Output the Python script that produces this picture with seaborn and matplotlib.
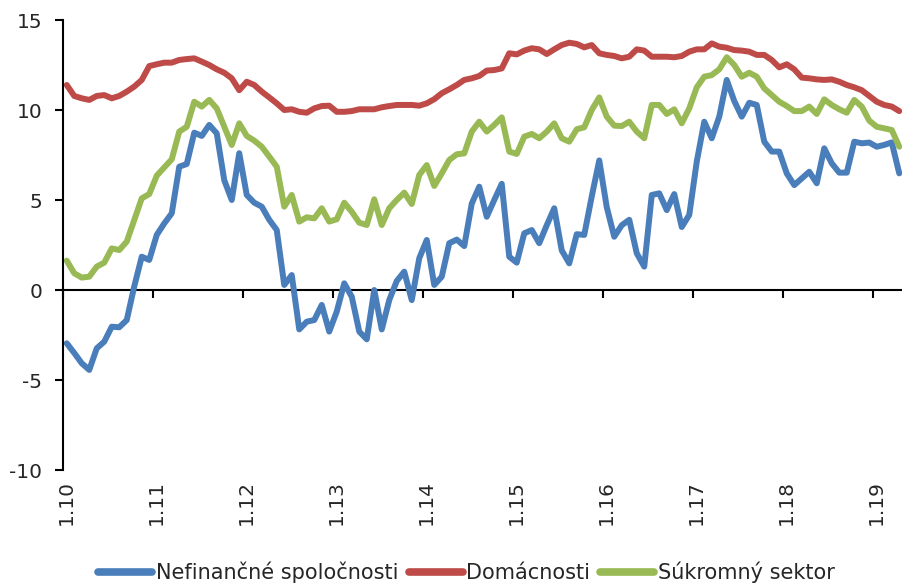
import numpy as np
import pandas as pd
import seaborn as sns
import matplotlib.pyplot as plt

# monthly data, 1.2010 - 4.2019
nefin = [-2.96, -3.5, -4.07, -4.44, -3.24, -2.87, -2.04, -2.07, -1.67, 0.2, 1.85, 1.67,
         3.06, 3.7, 4.26, 6.85, 7.0, 8.74, 8.56, 9.17, 8.7, 6.1, 5.0, 7.6,
         5.28, 4.85, 4.63, 3.9, 3.33, 0.28, 0.83, -2.19, -1.76, -1.67, -0.83, -2.31,
         -1.2, 0.37, -0.37, -2.31, -2.74, 0.0, -2.19, -0.56, 0.5, 1.02, -0.56, 1.76,
         2.78, 0.28, 0.74, 2.6, 2.8, 2.44, 4.8, 5.74, 4.07, 5.0, 5.9, 1.85,
         1.52, 3.15, 3.33, 2.6, 3.6, 4.54, 2.2, 1.48, 3.1, 3.06, 5.2, 7.2,
         4.6, 2.96, 3.6, 3.9, 2.04, 1.3, 5.28, 5.37, 4.44, 5.33, 3.5, 4.17,
         7.13, 9.35, 8.43, 9.63, 11.67, 10.5, 9.63, 10.4, 10.28, 8.24, 7.69, 7.69,
         6.48, 5.83, 6.2, 6.57, 5.93, 7.87, 7.04, 6.52, 6.52, 8.24, 8.15, 8.19,
         7.96, 8.06, 8.2, 6.48]
domac = [11.39, 10.78, 10.65, 10.56, 10.78, 10.83, 10.65, 10.78, 11.02, 11.3, 11.67, 12.44,
         12.54, 12.63, 12.63, 12.78, 12.83, 12.87, 12.69, 12.5, 12.26, 12.07, 11.76, 11.1,
         11.57, 11.39, 11.02, 10.7, 10.37, 10.0, 10.04, 9.9, 9.85, 10.09, 10.22, 10.24,
         9.9, 9.9, 9.94, 10.04, 10.04, 10.04, 10.15, 10.22, 10.28, 10.28, 10.28, 10.24,
         10.37, 10.6, 10.93, 11.15, 11.39, 11.67, 11.76, 11.89, 12.19, 12.22, 12.31, 13.15,
         13.09, 13.3, 13.43, 13.37, 13.11, 13.37, 13.61, 13.74, 13.67, 13.48, 13.61, 13.15,
         13.06, 13.0, 12.87, 12.96, 13.37, 13.3, 12.96, 12.96, 12.96, 12.93, 13.0, 13.24,
         13.37, 13.37, 13.7, 13.52, 13.46, 13.33, 13.3, 13.24, 13.06, 13.06, 12.78, 12.37,
         12.54, 12.26, 11.8, 11.76, 11.7, 11.67, 11.7, 11.57, 11.39, 11.26, 11.1, 10.78,
         10.46, 10.28, 10.19, 9.94]
sukrom = [1.63, 0.93, 0.69, 0.74, 1.3, 1.52, 2.31, 2.22, 2.69, 3.89, 5.09, 5.33,
          6.35, 6.81, 7.26, 8.8, 9.07, 10.46, 10.19, 10.56, 10.09, 9.07, 8.06, 9.26,
          8.56, 8.3, 7.96, 7.41, 6.85, 4.63, 5.28, 3.8, 4.04, 3.98, 4.54, 3.8,
          3.93, 4.85, 4.35, 3.74, 3.61, 5.04, 3.61, 4.54, 5.0, 5.41, 4.78, 6.39,
          6.94, 5.78, 6.48, 7.22, 7.54, 7.59, 8.8, 9.35, 8.8, 9.17, 9.59, 7.69,
          7.56, 8.52, 8.67, 8.43, 8.8, 9.26, 8.43, 8.24, 8.93, 9.04, 10.0, 10.7,
          9.63, 9.13, 9.11, 9.35, 8.8, 8.43, 10.28, 10.28, 9.78, 10.04, 9.26, 10.09,
          11.26, 11.85, 11.94, 12.26, 12.93, 12.5, 11.85, 12.07, 11.85, 11.2, 10.83, 10.46,
          10.22, 9.94, 9.94, 10.19, 9.78, 10.59, 10.28, 10.04, 9.85, 10.56, 10.19, 9.41,
          9.07, 8.98, 8.89, 7.96]
series_names = ["Nefinančné spoločnosti", "Domácnosti", "Súkromný sektor"]
colors = ["#4A7EBB", "#BE4B48", "#98B954"]
tick_labels = ["1.10", "1.11", "1.12", "1.13", "1.14", "1.15", "1.16", "1.17", "1.18", "1.19"]

n = len(nefin)
df = pd.DataFrame({"m": np.tile(np.arange(n), 3),
                   "value": nefin + domac + sukrom,
                   "series": np.repeat(series_names, n)})

sns.set_style("white")
plt.rcParams["font.family"] = ["DejaVu Sans"]
plt.rcParams["axes.unicode_minus"] = False

fig = plt.figure(figsize=(9.02, 5.87), dpi=100)
ax = fig.add_axes([63 / 902, 117 / 587, 840 / 902, 450 / 587])
sns.lineplot(data=df, x="m", y="value", hue="series", palette=colors,
             linewidth=4.3, ax=ax, legend=False, solid_capstyle="round")

ax.set_xlim(-0.5, n - 0.5)
ax.set_ylim(-10, 15)
ax.set_yticks([-10, -5, 0, 5, 10, 15])
ax.set_xticks(np.arange(0, n, 12))
ax.set_xticklabels(tick_labels[:len(range(0, n, 12))], rotation=90)
ax.set_xlabel("")
ax.set_ylabel("")
for s in ["top", "right", "bottom"]:
    ax.spines[s].set_visible(False)
ax.spines["left"].set_color("black")
ax.spines["left"].set_linewidth(1.5)
ax.tick_params(axis="y", direction="out", length=6, width=1.5, color="black",
               labelsize=14.5, pad=9, left=True)
ax.tick_params(axis="x", length=0, labelsize=14.5, pad=7)

# axis line at zero with year ticks
sec = ax.secondary_xaxis(10 / 25)
sec.set_xticks(np.arange(-0.5, n, 12))
sec.tick_params(axis="x", direction="out", length=6, width=1.5, color="black",
                labelbottom=False, labeltop=False, bottom=True, top=False)
sec.spines["bottom"].set_linewidth(1.5)
sec.spines["bottom"].set_color("black")
for s in ["top", "left", "right"]:
    sec.spines[s].set_visible(False)

handles = [plt.Line2D([], [], color=c, linewidth=5.5, solid_capstyle="round") for c in colors]
fig.legend(handles, series_names, loc="lower center", bbox_to_anchor=(0.517, -0.025),
           ncol=3, frameon=False, fontsize=15, handlelength=2.6, handletextpad=0.15,
           columnspacing=0.5)

fig.savefig("out.png", dpi=100)
